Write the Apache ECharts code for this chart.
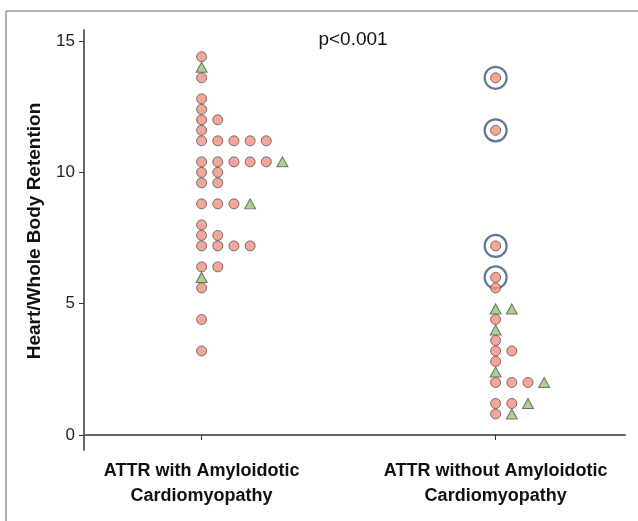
<!DOCTYPE html>
<html>
<head>
<meta charset="utf-8">
<script src="https://cdn.jsdelivr.net/npm/echarts@6/dist/echarts.min.js"></script>
<style>html,body{margin:0;padding:0;background:#fff}#c{width:638px;height:521px}</style>
</head>
<body>
<div id="c"></div>
<script>
const categories = ['ATTR with Amyloidotic\nCardiomyopathy', 'ATTR without Amyloidotic\nCardiomyopathy'];
const yTicks = [0, 5, 10, 15];
const g1Circles = [14.4, 13.6, 12.8, 12.4, 12.0, 12.0, 11.6, 11.2, 11.2, 11.2, 11.2, 11.2,
  10.4, 10.4, 10.4, 10.4, 10.4, 10.0, 10.0, 9.6, 9.6, 8.8, 8.8, 8.8, 8.0, 7.6, 7.6,
  7.2, 7.2, 7.2, 7.2, 6.4, 6.4, 5.6, 4.4, 3.2];
const g1Triangles = [14.0, 10.4, 8.8, 6.0];
const g2Circles = [13.6, 11.6, 7.2, 6.0, 5.6, 4.4, 3.6, 3.2, 3.2, 2.8, 2.0, 2.0, 2.0, 1.2, 1.2, 0.8];
const g2Triangles = [4.8, 4.8, 4.0, 2.4, 2.0, 1.2, 0.8];
const g2Ringed = [13.6, 11.6, 7.2, 6.0];
const pText = 'p<0.001';

const STEP = 0.055; // horizontal stacking step (axis units)

function stack(groupIndex, circles, triangles) {
  const counts = {};
  const place = (v) => {
    const k = v.toFixed(2);
    const c = counts[k] || 0;
    counts[k] = c + 1;
    return [groupIndex + c * STEP, v];
  };
  const circ = circles.map(place);
  const tri = triangles.map(place);
  return { circ, tri };
}
const s1 = stack(1, g1Circles, g1Triangles);
const s2 = stack(2, g2Circles, g2Triangles);
const ringPts = g2Ringed.map(v => [2, v]);

const circleStyle = { color: '#f4907f', borderColor: '#555', borderWidth: 1 };
const triStyle = { color: '#98c46e', borderColor: '#555', borderWidth: 1 };
const FONT = 'Liberation Sans, Arial, sans-serif';

const chart = echarts.init(document.getElementById('c'));
chart.setOption({
  animation: false,
  grid: { left: 84, right: 13, top: 30, bottom: 71 },
  xAxis: {
    type: 'value', min: 0.6, max: 2.44,
    splitLine: { show: false },
    axisLine: { show: true, lineStyle: { color: '#666', width: 2 } },
    axisTick: { show: true, customValues: [1, 2], length: 5, lineStyle: { color: '#333' } },
    axisLabel: {
      customValues: [1, 2],
      formatter: v => categories[Math.round(v) - 1] || '',
      fontFamily: FONT, fontWeight: 'bold', fontSize: 18,
      color: '#111', lineHeight: 25, margin: 9
    }
  },
  yAxis: {
    type: 'value', min: -0.571, max: 15.42,
    splitLine: { show: false },
    axisLine: { show: true, lineStyle: { color: '#333', width: 1.5 } },
    axisTick: { show: true, customValues: yTicks, length: 5, lineStyle: { color: '#333' } },
    axisLabel: {
      customValues: yTicks,
      fontFamily: FONT, fontSize: 17, color: '#222', margin: 9
    }
  },
  graphic: [
    { type: 'line', shape: { x1: 6, y1: 11, x2: 638, y2: 11 }, style: { stroke: '#666', lineWidth: 1 } },
    { type: 'line', shape: { x1: 6, y1: 11, x2: 6, y2: 521 }, style: { stroke: '#666', lineWidth: 1 } },
    { type: 'text', x: 35, y: 231, rotation: Math.PI / 2,
      style: { text: 'Heart/Whole Body Retention', fontFamily: FONT,
        fontWeight: 'bold', fontSize: 19, fill: '#111', align: 'center', verticalAlign: 'middle' } },
    { type: 'text', x: 353, y: 40,
      style: { text: pText, fontFamily: FONT,
        fontSize: 19, fill: '#111', align: 'center', verticalAlign: 'middle' } }
  ],
  series: [
    { type: 'scatter', symbol: 'circle', symbolSize: 22, data: ringPts, z: 1,
      itemStyle: { color: 'rgba(0,0,0,0)', borderColor: '#3a5878', borderWidth: 2.2 } },
    { type: 'scatter', symbol: 'circle', symbolSize: 10, data: s1.circ, itemStyle: circleStyle, z: 3 },
    { type: 'scatter', symbol: 'triangle', symbolSize: [11, 10], data: s1.tri, itemStyle: triStyle, z: 3 },
    { type: 'scatter', symbol: 'circle', symbolSize: 10, data: s2.circ, itemStyle: circleStyle, z: 3 },
    { type: 'scatter', symbol: 'triangle', symbolSize: [11, 10], data: s2.tri, itemStyle: triStyle, z: 3 }
  ]
});
</script>
</body>
</html>
